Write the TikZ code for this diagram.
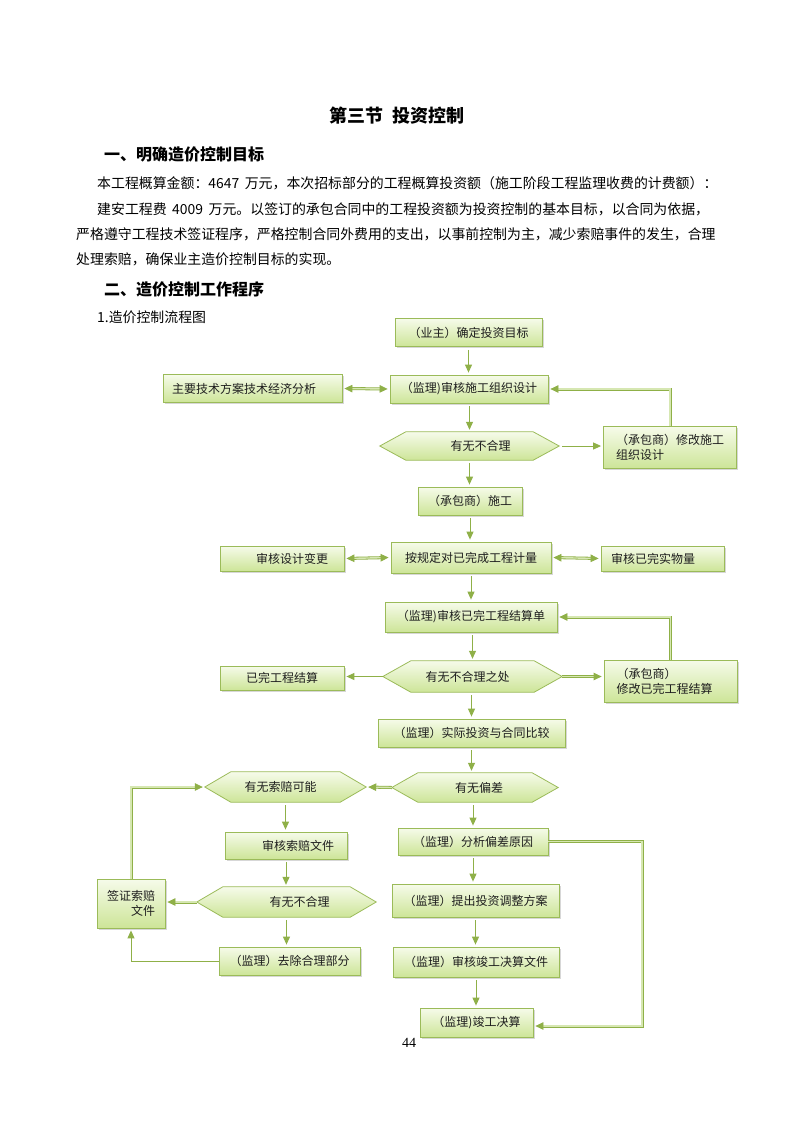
\documentclass[tikz,border=0pt]{standalone}
\usepackage{fontspec}
\newfontfamily\cjk{Noto Sans CJK SC}
\setmainfont{Liberation Serif}
\usetikzlibrary{arrows.meta,shadows,calc}
\definecolor{gborder}{RGB}{155,187,89}
\definecolor{gline}{RGB}{143,176,72}
\definecolor{gtop}{RGB}{246,251,234}
\definecolor{gbot}{RGB}{205,229,152}
\definecolor{gdbl}{RGB}{214,231,178}
\definecolor{txt}{RGB}{30,30,30}
\pgfdeclarelayer{bg}
\pgfsetlayers{bg,main}
\tikzset{
  fbox/.style={draw=gborder, line width=0.8pt, top color=gtop, bottom color=gbot,
    inner sep=0pt, font=\cjk\fontsize{12}{15}\selectfont, text=txt,
    drop shadow={shadow xshift=1.5pt, shadow yshift=-1.8pt, opacity=0.22, fill=black!70}},
  hexbody/.style={inner sep=0pt, draw=none},
  hextext/.style={inner sep=0pt, font=\cjk\fontsize{12}{15}\selectfont, text=txt},
  hexshape/.style={draw=gborder, line width=0.8pt, top color=gtop, bottom color=gbot},
  arr/.style={draw=gline, line width=1pt, -{Triangle[length=8pt,width=7pt]},
    shorten <=3pt, shorten >=2pt},
  sline/.style={draw=gline, line width=1pt, -{Triangle[length=8pt,width=7pt]}, shorten >=2pt},
  darr/.style={draw=gline, line width=0.8pt, double=gdbl, double distance=1.4pt,
    -{Triangle[length=8pt,width=7.5pt]}, shorten >=2pt},
  ddarr/.style={draw=gline, line width=0.8pt, double=gdbl, double distance=1.4pt,
    {Triangle[length=8pt,width=7.5pt]}-{Triangle[length=8pt,width=7.5pt]},
    shorten >=2pt, shorten <=2pt},
  body/.style={inner sep=0pt, anchor=west, font=\cjk\fontsize{13.9}{16}\selectfont, text=black},
  head/.style={inner sep=0pt, anchor=west, font=\cjk\bfseries\fontsize{16}{18}\selectfont, text=black},
}
% name, cx, cy, width, height, inset, text, text xshift
\newcommand\hexnode[8]{%
  \node[hexbody, minimum width=#4-2*#6, minimum height=#5] (#1) at (#2,#3) {};
  \coordinate (#1-l) at ([xshift=-#6pt]#1.west);
  \coordinate (#1-r) at ([xshift=#6pt]#1.east);
  \begin{pgfonlayer}{bg}
  \path[hexshape] (#1.north west) -- (#1.north east) -- (#1-r) -- (#1.south east)
     -- (#1.south west) -- (#1-l) -- cycle;
  \end{pgfonlayer}
  \node[hextext] (#1t) at ([xshift=#8pt]#1.center) {#7};}
\begin{document}
\begin{tikzpicture}[x=1pt,y=-1pt]
\begin{pgfonlayer}{bg}
\fill[white] (0,0) rectangle (793,1122);
\end{pgfonlayer}
\useasboundingbox (0,0) rectangle (793,1122);

% ---------- text ----------
\node[inner sep=0pt, font=\cjk\bfseries\fontsize{18}{20}\selectfont] (title) at (397,116) {第三节\hspace{0.5em}投资控制};
\node[head] (h1) at (104,154) {一、明确造价控制目标};
\node[body] (l1) at (97,183) {本工程概算金额：4647\hspace{0.4em}万元，本次招标部分的工程概算投资额（施工阶段工程监理收费的计费额）：};
\node[body] (l2) at (97,209) {建安工程费\hspace{0.4em}4009\hspace{0.4em}万元。以签订的承包合同中的工程投资额为投资控制的基本目标，以合同为依据，};
\node[body] (l3) at (76,234) {严格遵守工程技术签证程序，严格控制合同外费用的支出，以事前控制为主，减少索赔事件的发生，合理};
\node[body] (l4) at (76,259) {处理索赔，确保业主造价控制目标的实现。};
\node[head] (h2) at (104,289) {二、造价控制工作程序};
\node[body] (l5) at (97,317) {1.造价控制流程图};

% ---------- boxes ----------
\node[fbox, minimum width=147, minimum height=28] (b1) at (468.5,332.5) {（业主）确定投资目标};
\node[fbox, minimum width=179, minimum height=28] (b2) at (252.5,388.5) {主要技术方案技术经济分析\hspace*{17pt}};
\node[fbox, minimum width=158, minimum height=28] (b3) at (469,389) {（监理)审核施工组织设计};
\node[fbox, minimum width=133, minimum height=42, align=left] (b5) at (670,447.5) {（承包商）修改施工\\组织设计};
\node[fbox, minimum width=104, minimum height=28] (b6) at (470,501) {（承包商）施工};
\node[fbox, minimum width=124, minimum height=25] (b7) at (282,558.5) {\hspace*{20pt}审核设计变更};
\node[fbox, minimum width=160, minimum height=31] (b8) at (471,557.5) {按规定对已完成工程计量};
\node[fbox, minimum width=123, minimum height=25] (b9) at (662.5,558.5) {审核已完实物量\hspace*{19pt}};
\node[fbox, minimum width=172, minimum height=30] (b10) at (471,617) {（监理)审核已完工程结算单};
\node[fbox, minimum width=124, minimum height=24] (b11) at (282,678) {已完工程结算};
\node[fbox, minimum width=133, minimum height=42, align=left] (b13) at (670.5,681) {（承包商）\\修改已完工程结算\hspace*{12pt}};
\node[fbox, minimum width=187, minimum height=28] (b14) at (471.5,733) {（监理）实际投资与合同比较};
\node[fbox, minimum width=122, minimum height=27] (b17) at (286,845.5) {\hspace*{24pt}审核索赔文件};
\node[fbox, minimum width=150, minimum height=27] (b18) at (473,841.5) {（监理）分析偏差原因};
\node[fbox, minimum width=68, minimum height=49, align=right] (b19) at (131,903.5) {签证索赔\\文件};
\node[fbox, minimum width=167, minimum height=33] (b21) at (475.5,900.5) {（监理）提出投资调整方案};
\node[fbox, minimum width=141, minimum height=28] (b22) at (289.5,961) {（监理）去除合理部分};
\node[fbox, minimum width=166, minimum height=30] (b23) at (476,962) {（监理）审核竣工决算文件};
\node[fbox, minimum width=113, minimum height=29] (b24) at (476.5,1022.5) {（监理)竣工决算};

% ---------- hexagons ----------
\hexnode{h4}{469.5}{446}{179}{28}{26}{有无不合理}{11}
\hexnode{h12}{472.5}{676.5}{179}{31}{28}{有无不合理之处}{-5}
\hexnode{h15}{285.5}{787}{161}{30}{26}{有无索赔可能}{-5}
\hexnode{h16}{475}{787.5}{166}{29}{26}{有无偏差}{4}
\hexnode{h20}{286.5}{902}{179}{30}{26}{有无不合理}{13}

% ---------- connectors ----------
\draw[arr] (b1.south) -- (b1.south |- b3.north);
\draw[ddarr] (b2.east) -- (b3.west);
\draw[arr] (b3.south -| h4) -- (h4.north);
\draw[arr] (h4-r) -- (b5.west |- h4-r);
\draw[darr] (b5.north) -- (b5.north |- b3.east) -- (b3.east);
\draw[arr] (h4.south) -- (h4.south |- b6.north);
\draw[arr] (b6.south) -- (b6.south |- b8.north);
\draw[ddarr] (b7.east) -- (b8.west);
\draw[ddarr] (b8.east) -- (b9.west);
\draw[arr] (b8.south) -- (b8.south |- b10.north);
\draw[darr] (b13.north) -- (b13.north |- b10.east) -- (b10.east);
\draw[arr] (b10.south -| h12) -- (h12.north);
\draw[sline] (h12-l) -- (b11.east |- h12-l);
\draw[darr] (h12-r) -- (b13.west |- h12-r);
\draw[arr] (h12.south -| b14) -- (b14.north);
\draw[arr] (b14.south) -- (b14.south |- h16.north);
\draw[darr] (h16-l) -- (h15-r);
\draw[arr] (h15.south) -- (h15.south |- b17.north);
\draw[arr] (h16.south -| b18) -- (b18.north);
\draw[arr] (b17.south) -- (b17.south |- h20.north);
\draw[darr] (h20-l) -- (b19.east |- h20-l);
\draw[arr] (h20.south) -- (h20.south |- b22.north);
\draw[sline] (b22.west) -| (b19.south);
\draw[darr] (b19.north) |- (h15-l);
\draw[arr] (b18.south) -- (b18.south |- b21.north);
\draw[arr] (b21.south) -- (b21.south |- b23.north);
\draw[arr] (b23.south) -- (b23.south |- b24.north);
\coordinate (rc) at (642,1026);
\draw[darr] (b18.east) -- (b18.east -| rc) -- (rc) -- (rc -| b24.east);

% page number
\node[inner sep=0pt, font=\fontsize{14}{16}\selectfont] (pg) at (409,1043) {44};
\end{tikzpicture}
\end{document}
